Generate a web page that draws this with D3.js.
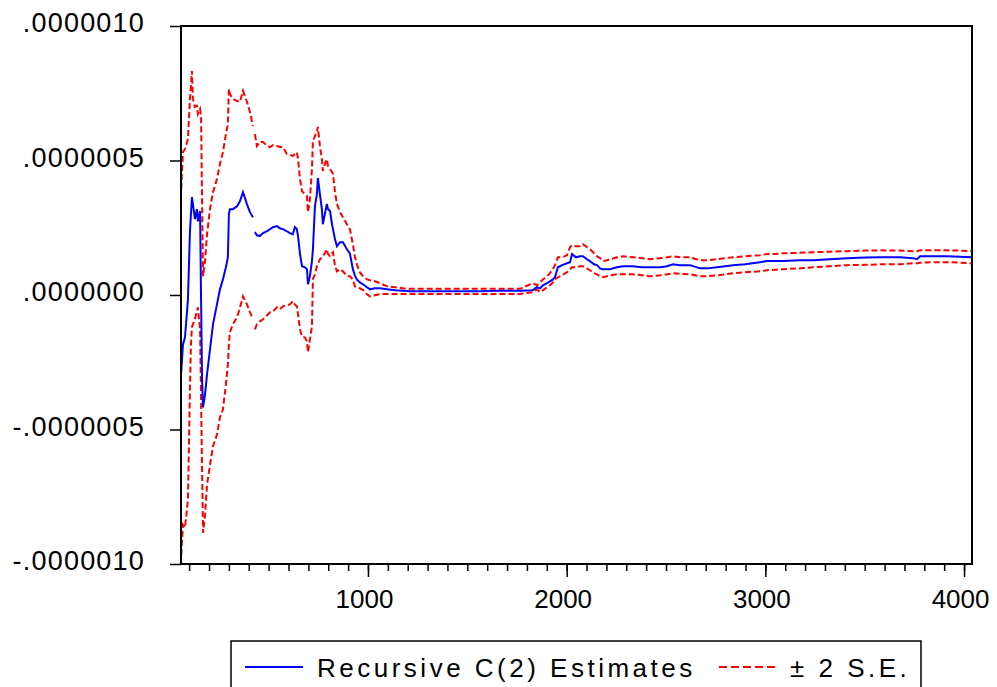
<!DOCTYPE html>
<html>
<head>
<meta charset="utf-8">
<script src="https://cdn.jsdelivr.net/npm/d3@7"></script>
<style>
  body { margin: 0; background: #fff; }
  text { font-family: "Liberation Sans", Arial, sans-serif; fill: #000; }
</style>
</head>
<body>
<svg id="chart" width="997" height="687"></svg>
<script>
// recursive coefficient C(2), values in units of 1e-7
var UNIT = 1e-7;

var obs = [
  60, 69, 79, 94, 104, 109, 114, 119, 129, 139,
  144, 155, 160, 165, 170, 180, 190, 205, 220, 240,
  255, 270, 285, 295, 300, 305, 320, 341, 356, 371,
  391, 406, 421, 426, 431, 441, 456, 472, 492, 507,
  522, 542, 557, 572, 592, 607, 622, 632, 642, 648,
  658, 668, 683, 693, 698, 708, 718, 723, 733, 743,
  748, 758, 768, 773, 783, 793, 799, 809, 819, 824,
  834, 844, 859, 874, 894, 909, 924, 934, 944, 959,
  975, 995, 1010, 1035, 1060, 1096, 1136, 1176, 1212, 1262,
  1363, 1463, 1564, 1665, 1765, 1830, 1850, 1866, 1881, 1901,
  1916, 1931, 1941, 1956, 1977, 2002, 2017, 2027, 2047, 2067,
  2082, 2102, 2117, 2138, 2153, 2168, 2183, 2203, 2218, 2253,
  2283, 2334, 2379, 2419, 2470, 2505, 2535, 2570, 2621, 2671,
  2711, 2756, 2797, 2837, 2898, 2973, 3008, 3049, 3089, 3174,
  3240, 3325, 3411, 3502, 3577, 3678, 3743, 3763, 3779, 3829,
  3914, 3980, 4040
];

var estimate = [
  -2.88, -1.84, -1.58, -0.16, 2.34, 3.01, 3.64, 3.38, 2.82, 3.19,
  2.74, 3.12, -0.16, -3.14, -4.18, -3.70, -2.95, -2.02, -1.09, -0.35,
  0.21, 0.58, 1.03, 1.40, 3.01, 3.19, 3.19, 3.30, 3.49, 3.82,
  3.38, 3.08, 2.89, null, 2.34, 2.22, 2.19, 2.30, 2.37, 2.45,
  2.52, 2.56, 2.48, 2.45, 2.37, 2.30, 2.26, 2.52, 2.45, 2.19,
  1.52, 1.07, 1.03, 0.96, 0.40, 0.70, 1.26, 1.70, 3.30, 3.75,
  4.35, 3.75, 3.19, 2.63, 3.01, 3.38, 3.19, 3.12, 2.63, 2.45,
  2.07, 1.81, 1.96, 1.96, 1.70, 1.55, 0.96, 0.73, 0.58, 0.47,
  0.40, 0.29, 0.21, 0.25, 0.25, 0.21, 0.18, 0.16, 0.14, 0.14,
  0.14, 0.14, 0.14, 0.16, 0.16, 0.18, 0.29, 0.25, 0.36, 0.44,
  0.51, 0.58, 0.66, 1.03, 1.11, 1.18, 1.22, 1.52, 1.40, 1.44,
  1.44, 1.33, 1.26, 1.14, 1.11, 0.99, 0.96, 0.96, 0.96, 1.03,
  1.07, 1.07, 1.03, 1.03, 1.03, 1.07, 1.14, 1.11, 1.11, 0.99,
  0.99, 1.03, 1.07, 1.11, 1.14, 1.22, 1.26, 1.26, 1.26, 1.29,
  1.29, 1.33, 1.37, 1.39, 1.40, 1.40, 1.37, 1.33, 1.44, 1.44,
  1.44, 1.42, 1.40
];

var upperSE = [
  3.94, 5.31, 5.43, 5.80, 7.29, 7.77, 8.33, 7.29, 6.99, 7.03,
  6.73, 6.92, 6.66, 3.56, 0.70, 1.26, 2.26, 3.19, 3.82, 4.31,
  4.87, 5.31, 5.98, 6.36, 7.66, 7.47, 7.29, 7.21, 7.18, 7.59,
  7.18, 6.80, 6.28, null, 5.98, 5.54, 5.69, 5.69, 5.54, 5.50,
  5.57, 5.54, 5.50, 5.50, 5.24, 5.20, 5.17, 5.24, 5.31, 5.05,
  4.31, 3.86, 3.75, 3.68, 3.08, 3.56, 4.68, 5.69, 5.91, 6.06,
  6.25, 5.54, 5.05, 4.61, 4.87, 5.05, 4.79, 4.68, 4.57, 4.50,
  3.82, 3.38, 3.08, 2.89, 2.63, 2.45, 1.89, 1.44, 1.14, 0.85,
  0.70, 0.58, 0.55, 0.51, 0.44, 0.32, 0.29, 0.25, 0.23, 0.23,
  0.23, 0.23, 0.23, 0.23, 0.23, 0.44, 0.36, 0.47, 0.58, 0.70,
  0.81, 0.96, 1.11, 1.40, 1.40, 1.48, 1.78, 1.85, 1.81, 1.81,
  1.89, 1.78, 1.70, 1.55, 1.44, 1.37, 1.26, 1.29, 1.33, 1.40,
  1.44, 1.40, 1.37, 1.33, 1.37, 1.40, 1.44, 1.40, 1.40, 1.29,
  1.29, 1.33, 1.37, 1.40, 1.44, 1.48, 1.52, 1.52, 1.55, 1.57,
  1.59, 1.61, 1.63, 1.65, 1.66, 1.65, 1.63, 1.63, 1.66, 1.66,
  1.66, 1.65, 1.63
];

var lowerSE = [
  -9.66, -8.54, -8.65, -7.61, -3.51, -1.84, -1.20, -1.09, -0.90, -0.61,
  -0.46, -1.28, -3.88, -6.49, -8.84, -8.17, -7.05, -6.31, -5.63, -5.19,
  -4.55, -4.26, -3.33, -2.58, -1.84, -1.39, -1.09, -0.83, -0.46, -0.05,
  -0.35, -0.64, -0.90, null, -1.28, -1.09, -0.98, -0.90, -0.76, -0.64,
  -0.61, -0.46, -0.53, -0.42, -0.38, -0.35, -0.23, -0.35, -0.42, -0.72,
  -1.28, -1.54, -1.58, -1.72, -2.13, -1.65, -1.17, 0.60, 0.77, 1.07,
  1.14, 1.33, 1.40, 1.44, 1.55, 1.70, 1.52, 1.44, 1.55, 1.59,
  1.07, 0.88, 0.96, 0.88, 0.70, 0.70, 0.58, 0.32, 0.29, 0.25,
  0.18, 0.03, -0.05, -0.01, 0.03, 0.04, 0.04, 0.04, 0.04, 0.04,
  0.04, 0.04, 0.04, 0.04, 0.04, 0.10, 0.21, 0.10, 0.18, 0.29,
  0.36, 0.47, 0.58, 0.66, 0.73, 0.85, 0.96, 1.03, 1.03, 1.07,
  1.07, 0.99, 0.92, 0.81, 0.77, 0.70, 0.66, 0.70, 0.73, 0.77,
  0.77, 0.77, 0.73, 0.70, 0.73, 0.77, 0.81, 0.79, 0.77, 0.70,
  0.70, 0.73, 0.77, 0.81, 0.85, 0.88, 0.92, 0.94, 0.96, 0.99,
  1.03, 1.07, 1.11, 1.12, 1.14, 1.14, 1.18, 1.18, 1.20, 1.22,
  1.22, 1.20, 1.18
];

var yTicks = [-10, -5, 0, 5, 10];
var xMajor = [1000, 2000, 3000, 4000];
var legendLabels = ["Recursive C(2) Estimates", "\u00b1 2 S.E."];

if (estimate.length !== obs.length || upperSE.length !== obs.length || lowerSE.length !== obs.length) {
    throw new Error("length mismatch " + obs.length + " " + estimate.length + " " + upperSE.length + " " + lowerSE.length);
}

var svg = d3.select("#chart");
var pLeft = 181, pRight = 972, pTop = 26, pBottom = 564;

var x = d3.scaleLinear().domain([59, 4040]).range([pLeft, pRight]);
var y = d3.scaleLinear().domain([-10, 10]).range([pBottom, pTop]);

function line(vals) {
    return d3.line()
        .defined(function (d, i) { return vals[i] != null; })
        .x(function (d, i) { return x(obs[i]); })
        .y(function (d, i) { return y(vals[i]); })(obs);
}

// y axis, EViews style labels (.0000005, -.0000005)
var fmt = d3.format(".7f");
var gy = svg.append("g").attr("transform", "translate(" + pLeft + ",0)")
    .call(d3.axisLeft(y).tickValues(yTicks).tickSize(11).tickPadding(25)
        .tickFormat(function (v) {
            return fmt(v * UNIT).replace("\u2212", "-").replace("0.", ".");
        }));
gy.select(".domain").remove();
gy.selectAll("line").attr("stroke", "#000").attr("stroke-width", 1.5);
gy.selectAll("text").attr("font-size", 27).attr("letter-spacing", "1.2px")
    .attr("dy", "0.22em").style("font-family", "Liberation Sans, Arial, sans-serif");

// x axis: minor and major ticks
var gxm = svg.append("g").attr("transform", "translate(0," + pBottom + ")")
    .call(d3.axisBottom(x).tickValues(d3.range(100, 4001, 100)).tickSize(7).tickFormat(""));
gxm.select(".domain").remove();
gxm.selectAll("line").attr("stroke", "#000").attr("stroke-width", 1.5);

var gx = svg.append("g").attr("transform", "translate(0," + pBottom + ")")
    .call(d3.axisBottom(x).tickValues(xMajor).tickSize(13).tickPadding(6).tickFormat(d3.format("d")));
gx.select(".domain").remove();
gx.selectAll("line").attr("stroke", "#000").attr("stroke-width", 1.5);
gx.selectAll("text").attr("font-size", 26).attr("dx", -4).attr("dy", "0.95em")
    .style("font-family", "Liberation Sans, Arial, sans-serif");

// series
svg.append("path").attr("d", line(upperSE)).attr("fill", "none")
    .attr("stroke", "#ff0000").attr("stroke-width", 2).attr("stroke-dasharray", "6,3");
svg.append("path").attr("d", line(lowerSE)).attr("fill", "none")
    .attr("stroke", "#ff0000").attr("stroke-width", 2).attr("stroke-dasharray", "6,3");
svg.append("path").attr("d", line(estimate)).attr("fill", "none")
    .attr("stroke", "#0000ff").attr("stroke-width", 2);

// frame
svg.append("rect").attr("x", pLeft).attr("y", pTop)
    .attr("width", pRight - pLeft).attr("height", pBottom - pTop)
    .attr("fill", "none").attr("stroke", "#000").attr("stroke-width", 2);

// legend
var lg = svg.append("g");
lg.append("rect").attr("x", 231).attr("y", 641).attr("width", 690).attr("height", 70)
    .attr("fill", "#fff").attr("stroke", "#000").attr("stroke-width", 1.5);
lg.append("line").attr("x1", 245).attr("x2", 303).attr("y1", 667).attr("y2", 667)
    .attr("stroke", "#0000ff").attr("stroke-width", 2);
lg.append("text").attr("x", 317).attr("y", 677).attr("font-size", 26)
    .attr("letter-spacing", "3.5px").text(legendLabels[0]);
lg.append("line").attr("x1", 719).attr("x2", 777).attr("y1", 667).attr("y2", 667)
    .attr("stroke", "#ff0000").attr("stroke-width", 2).attr("stroke-dasharray", "8,4");
lg.append("text").attr("x", 790).attr("y", 677).attr("font-size", 26)
    .attr("letter-spacing", "3.5px").text(legendLabels[1]);
</script>
</body>
</html>
